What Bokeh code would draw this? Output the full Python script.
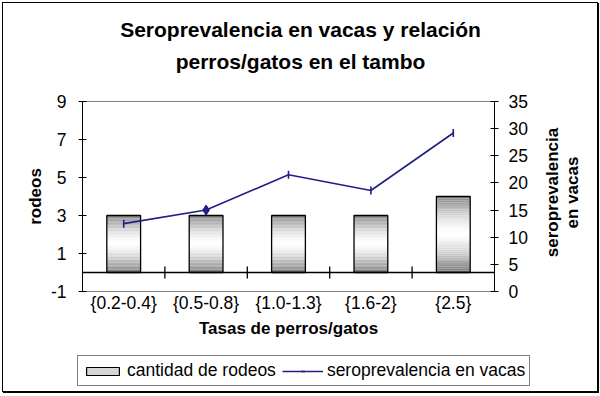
import numpy as np
from bokeh.plotting import figure
from bokeh.layouts import column
from bokeh.models import (FactorRange, Range1d, LinearAxis, FixedTicker, Span, Label,
                          Legend, LegendItem, ColumnDataSource)
from bokeh.embed import file_html
from bokeh.resources import INLINE

# ---- data ----
categories = ["{0.2-0.4}", "{0.5-0.8}", "{1.0-1.3}", "{1.6-2}", "{2.5}"]
rodeos = [3, 3, 3, 3, 4]
seroprevalencia = [12.5, 15.0, 21.5, 18.6, 29.2]
left_ticks = [-1, 1, 3, 5, 7, 9]
right_ticks = [0, 5, 10, 15, 20, 25, 30, 35]
title_text = "Seroprevalencia en vacas y relación\nperros/gatos en el tambo"
x_title = "Tasas de perros/gatos"
y_title = "rodeos"
y2_title = "seroprevalencia\nen vacas"
bar_label = "cantidad de rodeos"
line_label = "seroprevalencia en vacas"

FONT = "Liberation Sans"
NAVY = "#1f1f86"

W, H1, H2 = 594, 342, 46
p = figure(width=W, height=H1, output_backend="svg", toolbar_location=None,
           x_range=FactorRange(*categories, range_padding=0),
           y_range=Range1d(-1, 9),
           min_border_left=79, min_border_right=103, min_border_top=98, min_border_bottom=54)
p.extra_y_ranges = {"sero": Range1d(0, 35)}
p.background_fill_color = "white"
p.border_fill_color = "white"
p.outline_line_color = "#808080"
p.outline_line_width = 1
p.xgrid.visible = False
p.ygrid.visible = False

# ---- title (label in the top panel) ----
p.add_layout(Label(x=218, y=56, x_units="screen", y_units="screen", text=title_text,
                   text_align="center", text_baseline="middle", text_font=FONT,
                   text_font_style="bold", text_font_size="21px", text_color="black",
                   text_line_height=1.4), "above")

# ---- left axis ----
ya = p.yaxis[0]
ya.ticker = FixedTicker(ticks=left_ticks)
ya.major_label_overrides = {t: str(t) for t in left_ticks}
ya.major_tick_in = 4
ya.major_tick_out = 4
ya.minor_tick_line_color = None
ya.axis_line_color = "black"
ya.major_tick_line_color = "black"
ya.major_label_standoff = 12
ya.major_label_text_font = FONT
ya.major_label_text_font_size = "17.5px"
ya.major_label_text_color = "black"
ya.axis_label = y_title
ya.axis_label_text_font = FONT
ya.axis_label_text_font_style = "bold"
ya.axis_label_text_font_size = "17px"
ya.axis_label_text_color = "black"
ya.axis_label_standoff = 3

# ---- right axis ----
ra = LinearAxis(y_range_name="sero", ticker=FixedTicker(ticks=right_ticks))
ra.major_tick_in = 4
ra.major_tick_out = 4
ra.minor_tick_line_color = None
ra.major_label_standoff = 10
ra.major_label_text_font = FONT
ra.major_label_text_font_size = "17.5px"
ra.major_label_text_color = "black"
p.add_layout(ra, "right")
# right axis title, reading bottom-to-top, in the right panel next to the axis
p.add_layout(Label(x=32, y=99, x_units="screen", y_units="screen", text=y2_title,
                   angle=np.pi / 2, text_align="center", text_baseline="middle",
                   text_font=FONT, text_font_style="bold", text_font_size="17px",
                   text_color="black", text_line_height=1.1), "right")

# ---- bottom axis ----
xa = p.xaxis[0]
xa.axis_line_color = None
xa.major_tick_line_color = None
xa.major_tick_out = 0
xa.major_tick_in = 0
xa.major_label_standoff = 1
xa.major_label_text_font = FONT
xa.major_label_text_font_size = "17.5px"
xa.major_label_text_color = "black"
xa.axis_label = x_title
xa.axis_label_text_font = FONT
xa.axis_label_text_font_style = "bold"
xa.axis_label_text_font_size = "17px"
xa.axis_label_text_color = "black"
xa.axis_label_standoff = 3

# ---- gradient bars ----
N = 40
bx, bb, bt, bc = [], [], [], []
for c, v in zip(categories, rodeos):
    for k in range(N):
        t = (k + 0.5) / N
        L = int(round(255 - (255 - 125) * abs(2 * t - 1.04) ** 1.5))
        L = max(0, min(255, L))
        bx.append(c)
        bb.append(v * k / N)
        bt.append(v * (k + 1) / N)
        bc.append("#%02x%02x%02x" % (L, L, L))
p.vbar(x=bx, bottom=bb, top=bt, width=0.41, fill_color=bc, line_color=None)
p.vbar(x=categories, bottom=0, top=rodeos, width=0.41, fill_color=None,
       line_color="black", line_width=1.3)

# zero line with category-boundary ticks
p.add_layout(Span(location=0, dimension="width", line_color="black", line_width=1.3))
bsrc = ColumnDataSource(dict(x=[(c, 0.5) for c in categories[:-1]],
                             y=[0] * (len(categories) - 1)))
p.scatter(x="x", y="y", source=bsrc, marker="dash", angle=np.pi / 2, size=12,
          line_color="black", line_width=1.3)

# ---- line ----
p.line(categories, seroprevalencia, y_range_name="sero", line_color=NAVY, line_width=1.6)
p.scatter(categories, seroprevalencia, y_range_name="sero", marker="dash",
          angle=np.pi / 2, size=8, line_color=NAVY, line_width=1.6)
p.scatter([categories[1]], [seroprevalencia[1]], y_range_name="sero", marker="diamond",
          size=10, fill_color=NAVY, line_color=NAVY)

# ---- legend strip (separate small figure; series drawn out of its view) ----
lf = figure(width=W, height=H2, output_backend="svg", toolbar_location=None,
            x_range=FactorRange(*categories, range_padding=0), y_range=Range1d(1000, 1001),
            x_axis_type=None, y_axis_type=None, min_border=0)
for fig in (p, lf):
    try:
        fig.frame_align = False
    except Exception:
        pass
lf.outline_line_color = None
lf.background_fill_color = "white"
lf.border_fill_color = "white"
lf.xgrid.visible = False
lf.ygrid.visible = False
pr_bar = lf.vbar(x=categories, top=rodeos, bottom=0, width=0.41, fill_color="#d6d6d6",
                 line_color="black", line_width=1.2)
pr_ln = lf.line(categories, seroprevalencia, line_color=NAVY, line_width=1.6)
pr_mk = lf.scatter(categories, seroprevalencia, marker="dash", angle=np.pi / 2, size=8,
                   line_color=NAVY, line_width=1.6)
legend = Legend(items=[LegendItem(label=bar_label, renderers=[pr_bar]),
                       LegendItem(label=line_label, renderers=[pr_ln, pr_mk])],
                orientation="horizontal", location=(74, 5),
                border_line_color="black", border_line_width=1.2,
                background_fill_color="white", background_fill_alpha=1,
                label_text_font=FONT, label_text_font_size="17.5px", label_text_color="black",
                glyph_width=41, glyph_height=10, label_standoff=4, spacing=6,
                padding=4, margin=0, label_height=19)
lf.add_layout(legend, "center")

layout = column(p, lf, spacing=0,
                styles={"border": "1px solid black", "box-shadow": "1px 1px 0 black",
                        "margin-left": "2px", "margin-top": "2px", "background": "white"})

open("out.html", "w").write(file_html(layout, INLINE))
